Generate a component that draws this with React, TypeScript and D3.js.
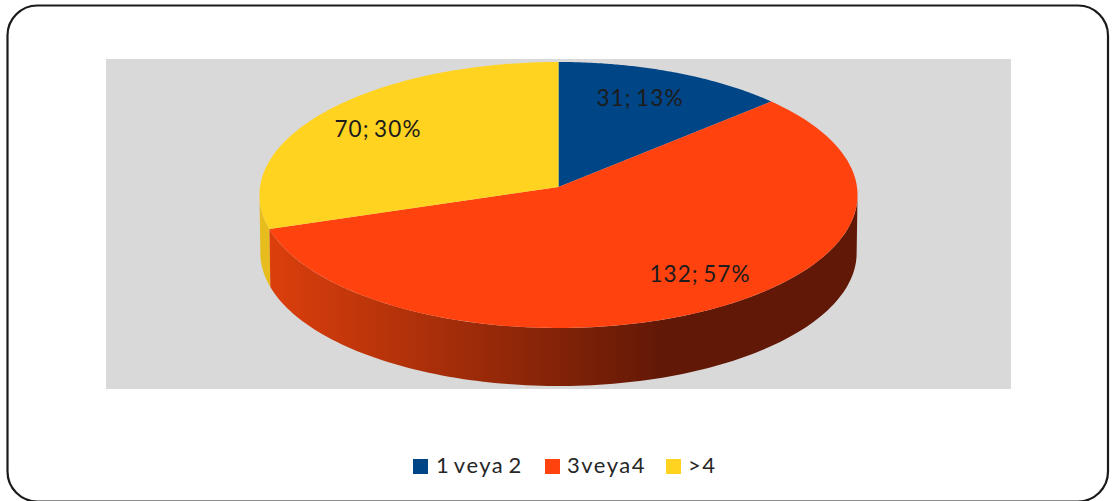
import React from "react";
import * as d3 from "d3";

const categories = ["1 veya 2", "3veya4", ">4"];
const values = [31, 132, 70];
const percents = [13, 57, 30];
const colors = ["#004586", "#ff420e", "#ffd320"];
const wallStart = ["#00366a", "#dc3f0c", "#e6bd1c"];
const wallEnd = ["#00264a", "#611806", "#d0aa18"];

const W = 1112, H = 501;
const plot = { x: 106, y: 59, w: 905, h: 330 };
const FONT = "Lato, 'Open Sans', sans-serif";

// Perspective projection of the unit pie disc onto the screen
const cx = 558.5, apexY = 187, R = 298.5, tilt = -0.06, A = 121.3, depth = 58;
const project = (angle: number, r: number, dy = 0, s = 1): [number, number] => {
  const u = Math.sin(angle) * r, v = -Math.cos(angle) * r;
  const d = 1 + tilt * v;
  return [cx + (s * R * u) / d, (A * v + apexY) / d + dy];
};
// Angles where the projected disc is widest: the wall is only visible between them
const frontStart = Math.acos(tilt);
const frontEnd = 2 * Math.PI - frontStart;

const labelPos: [number, number][] = [[640, 106], [700, 282], [378, 137]];
const legendPos = [
  { sq: 413, tx: 436 },
  { sq: 545, tx: 567 },
  { sq: 666, tx: 688 },
];

const arcs = d3.pie<number>().sort(null)(values);
const line = d3.line();
const sample = (a0: number, a1: number) => d3.range(0, 121).map((i) => a0 + ((a1 - a0) * i) / 120);

function topPath(a0: number, a1: number) {
  return line([project(0, 0), ...sample(a0, a1).map((a) => project(a, 1))]) + "Z";
}
function wallPath(start: number, end: number) {
  const a0 = Math.max(start, frontStart), a1 = Math.min(end, frontEnd);
  if (a1 <= a0) return "";
  const ss = sample(a0, a1);
  return line([
    ...ss.map((a) => project(a, 1)),
    ...ss.slice().reverse().map((a) => project(a, 1, depth, 0.997)),
  ]) + "Z";
}

export default function App() {
  return (
    <svg width={W} height={H} style={{ position: "absolute", left: 0, top: 0, display: "block" }}>
      <defs>
        {colors.map((_, i) => (
          <linearGradient key={i} id={`wall${i}`} gradientUnits="userSpaceOnUse" x1={270} x2={665} y1={0} y2={0}>
            <stop offset="0" stopColor={wallStart[i]} />
            <stop offset="1" stopColor={wallEnd[i]} />
          </linearGradient>
        ))}
      </defs>
      <rect width={W} height={H} fill="#fff" />
      <rect x={7.5} y={5.5} width={1100.5} height={496} rx={30} fill="#fff" stroke="#1a1a1a" strokeWidth={2.2} />
      <rect x={plot.x} y={plot.y} width={plot.w} height={plot.h} fill="#d9d9d9" />
      {[2, 0, 1].map((i) => (
        <path key={i} d={wallPath(arcs[i].startAngle, arcs[i].endAngle)} fill={`url(#wall${i})`} />
      ))}
      {arcs.map((a, i) => (
        <path key={i} d={topPath(a.startAngle, a.endAngle)} fill={colors[i]} />
      ))}
      {values.map((v, i) => (
        <text key={i} x={labelPos[i][0]} y={labelPos[i][1]} textAnchor="middle" fontFamily={FONT} fontSize={22.5} letterSpacing={1.1} wordSpacing={-2.5} fill="#1c1c1c">
          {`${v}; ${percents[i]}%`}
        </text>
      ))}
      {categories.map((c, i) => (
        <g key={c}>
          <rect x={legendPos[i].sq} y={459} width={15} height={15} fill={colors[i]} />
          <text x={legendPos[i].tx} y={473} fontFamily={FONT} fontSize={22} letterSpacing={1.5} wordSpacing={-3} fill="#262626">{c}</text>
        </g>
      ))}
    </svg>
  );
}
